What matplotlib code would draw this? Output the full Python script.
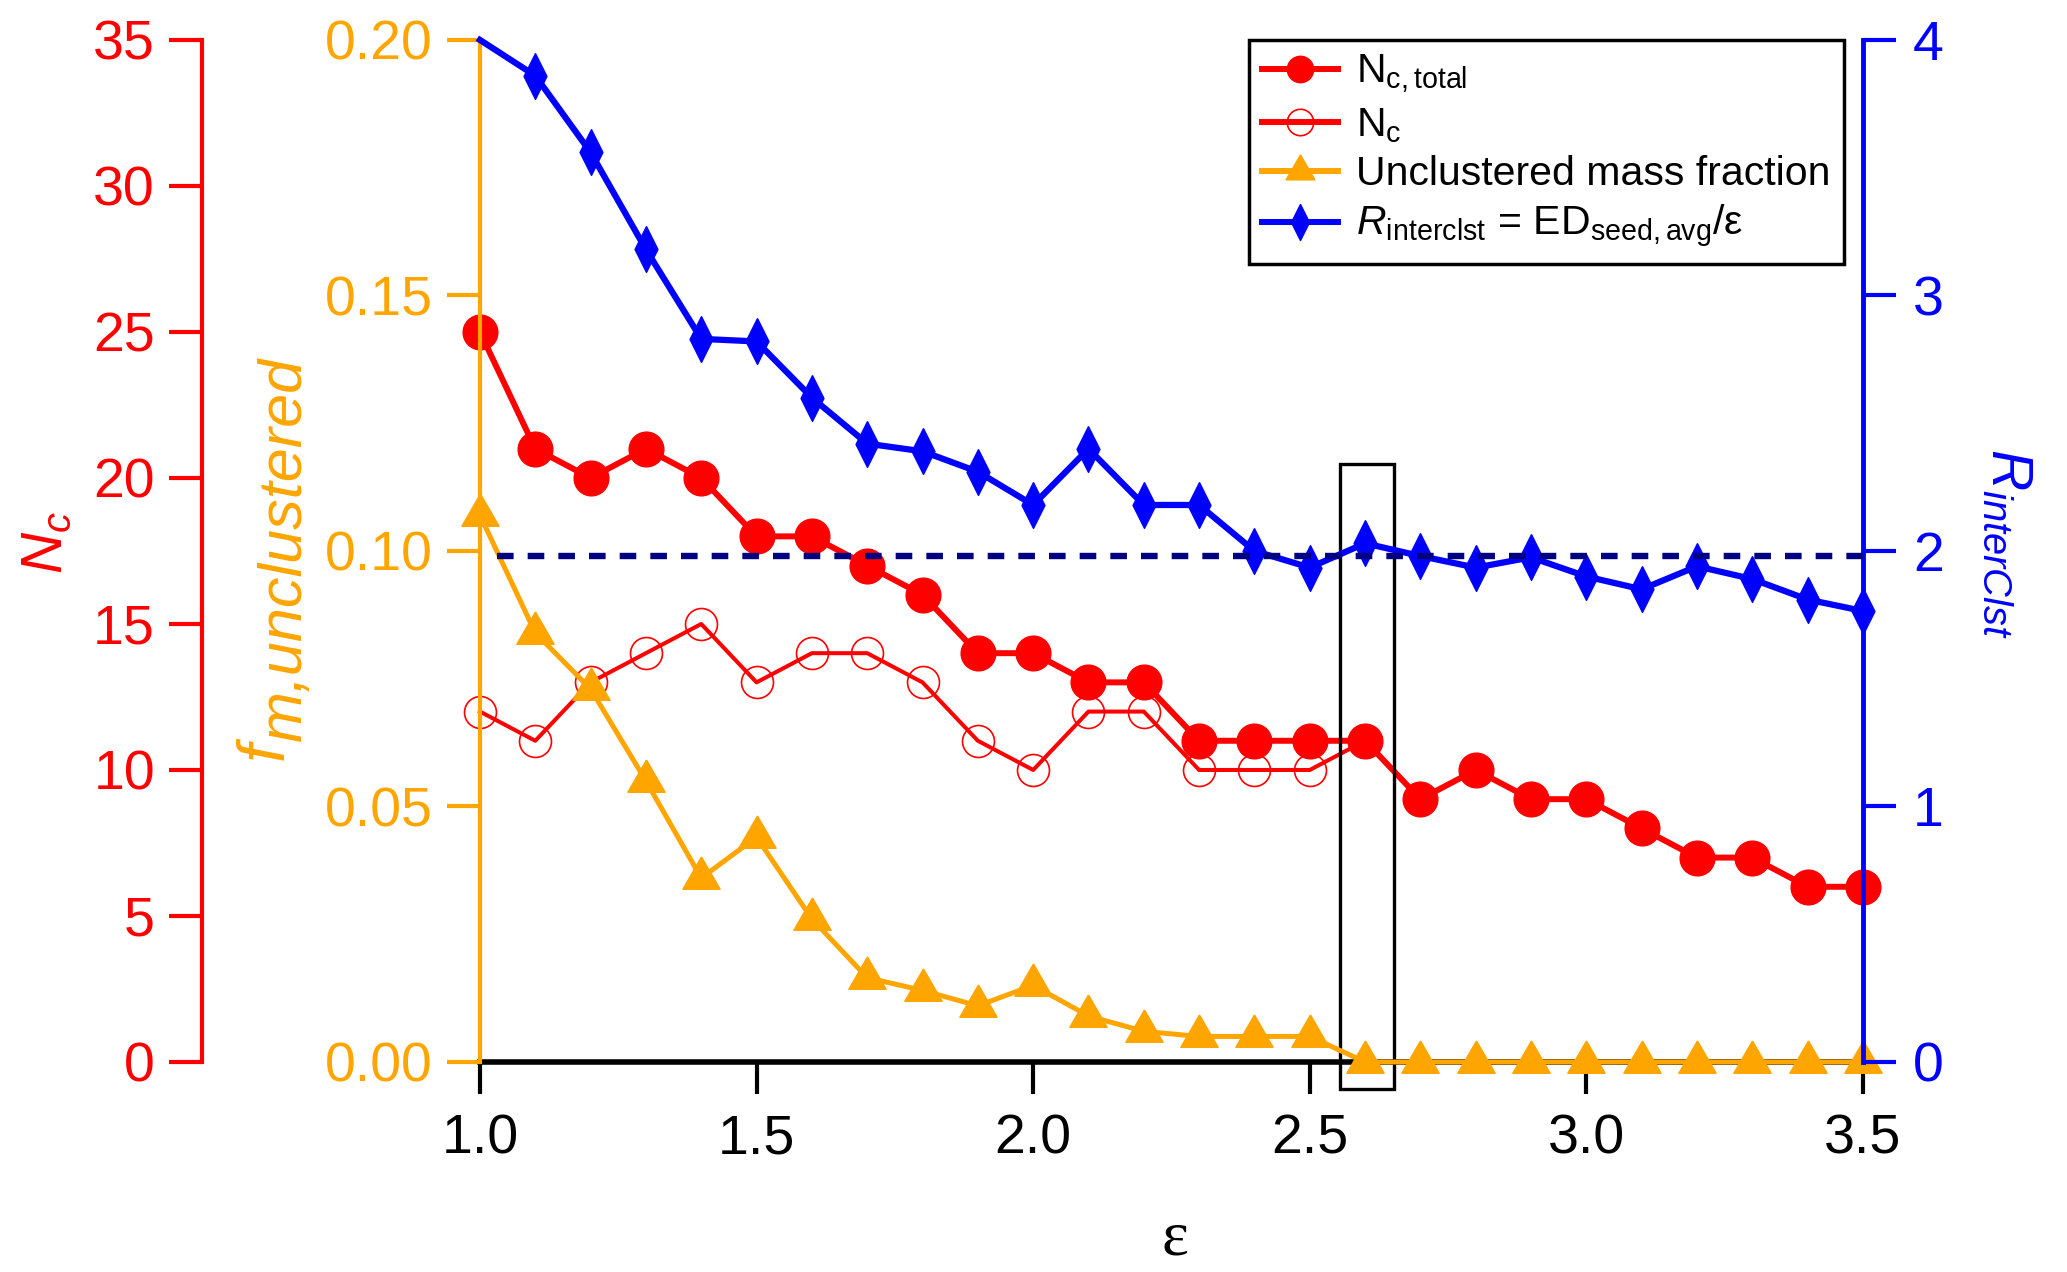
import matplotlib
matplotlib.use("Agg")
import matplotlib.pyplot as plt
from matplotlib.patches import Rectangle
from matplotlib.lines import Line2D
from matplotlib.ticker import FormatStrFormatter

plt.rcParams['font.family'] = ['Liberation Sans', 'DejaVu Sans']
plt.rcParams['mathtext.fontset'] = 'custom'
plt.rcParams['mathtext.rm'] = 'Liberation Sans'
plt.rcParams['mathtext.it'] = 'Liberation Sans:italic'

eps = [1.0, 1.1, 1.2, 1.3, 1.4, 1.5, 1.6, 1.7, 1.8, 1.9, 2.0, 2.1, 2.2,
       2.3, 2.4, 2.5, 2.6, 2.7, 2.8, 2.9, 3.0, 3.1, 3.2, 3.3, 3.4, 3.5]
nc_total = [25, 21, 20, 21, 20, 18, 18, 17, 16, 14, 14, 13, 13,
            11, 11, 11, 11, 9, 10, 9, 9, 8, 7, 7, 6, 6]
nc = [12, 11, 13, 14, 15, 13, 14, 14, 13, 11, 10, 12, 12,
      10, 10, 10, 11, 9, 10, 9, 9, 8, 7, 7, 6, 6]
f_unclustered = [0.107, 0.084, 0.073, 0.055, 0.036, 0.044, 0.028, 0.0165, 0.014,
                 0.011, 0.015, 0.009, 0.006, 0.005, 0.005, 0.005,
                 0, 0, 0, 0, 0, 0, 0, 0, 0, 0]
r_interclst = [4.0, 3.86, 3.56, 3.18, 2.83, 2.82, 2.60, 2.42, 2.39, 2.31, 2.18,
               2.40, 2.18, 2.18, 2.00, 1.935, 2.03, 1.98, 1.935, 1.975, 1.90,
               1.85, 1.94, 1.89, 1.81, 1.765]
r_ref = 1.98

RED = '#ff0000'
ORANGE = '#ffa500'
BLUE = '#0000ff'
NAVY = '#000080'

# igor-like markers: equilateral triangle centred on its centroid, slim diamond
TRI = [(0, 0.577), (-0.5, -0.289), (0.5, -0.289), (0, 0.577)]
DIAM = [(0, 1), (0.5, 0), (0, -1), (-0.5, 0), (0, 1)]

fig = plt.figure(figsize=(20.67, 12.72), dpi=100)
ax = fig.add_axes([0.2322, 0.1651, 0.6691, 0.8035])
axf = ax.twinx()
axr = ax.twinx()

# Nc axis (red, offset left)
ax.plot(eps, nc, color=RED, lw=2.9, marker='o', ms=23, mfc='none', mec=RED,
        mew=1.2, clip_on=False, zorder=3)
ax.plot(eps, nc_total, color=RED, lw=4.3, marker='o', ms=25, clip_on=False, zorder=4)
ax.set_xlim(1.0, 3.5)
ax.set_ylim(0, 35)
ax.set_yticks([0, 5, 10, 15, 20, 25, 30, 35])
ax.set_xticks([1.0, 1.5, 2.0, 2.5, 3.0, 3.5])
ax.spines['left'].set_position(('outward', 200))
ax.spines['left'].set_color(RED)
ax.spines['left'].set_linewidth(3)
ax.spines['top'].set_visible(False)
ax.spines['right'].set_visible(False)
ax.spines['bottom'].set_linewidth(4)
ax.tick_params(axis='y', colors=RED, labelsize=40, length=24, width=3, pad=10)
ax.tick_params(axis='x', colors='black', labelsize=40, length=23, width=3, pad=14)
ax.set_ylabel('$N_c$', color=RED, fontsize=41)
ax.yaxis.set_label_coords(-0.2936, 0.508)
ax.set_xlabel('ε', fontsize=46, family=['Liberation Serif', 'DejaVu Serif'],
              va='baseline')
ax.xaxis.set_label_coords(0.5025, -0.188)

ax.add_patch(Rectangle((2.555, -0.92), 0.097, 21.4, fill=False, ec='black',
                       lw=2.4, clip_on=False, zorder=6))

# unclustered mass fraction (orange, inner left)
axf.plot(eps, f_unclustered, color=ORANGE, lw=3.6, marker=TRI, ms=31,
         clip_on=False, zorder=5)
axf.set_ylim(0, 0.20)
axf.set_yticks([0.00, 0.05, 0.10, 0.15, 0.20])
axf.yaxis.set_major_formatter(FormatStrFormatter('%.2f'))
axf.yaxis.tick_left()
for s in ['top', 'right', 'bottom']:
    axf.spines[s].set_visible(False)
axf.spines['left'].set_color(ORANGE)
axf.spines['left'].set_linewidth(3)
axf.tick_params(axis='y', colors=ORANGE, labelsize=40, length=24, width=3, pad=10)

# f_m,unclustered label: big f with a nearly full-size lowered subscript
fig.text(283 / 2067, 1 - 760 / 1272, 'f', color=ORANGE, fontsize=48,
         style='italic', rotation=90, rotation_mode='anchor',
         ha='left', va='baseline')
fig.text(301 / 2067, 1 - 741 / 1272, 'm,unclustered', color=ORANGE, fontsize=44,
         style='italic', rotation=90, rotation_mode='anchor',
         ha='left', va='baseline')

# R_interclst (blue, right)
axr.plot(eps, r_interclst, color=BLUE, lw=4.5, marker=DIAM, ms=33,
         markevery=slice(1, None), clip_on=False, zorder=4)
axr.axhline(r_ref, xmin=0.012, xmax=1.0, color=NAVY, lw=4.6, ls=(0, (2.6, 2.2)),
            zorder=5)
axr.set_ylim(0, 4)
axr.set_yticks([0, 1, 2, 3, 4])
for s in ['top', 'left', 'bottom']:
    axr.spines[s].set_visible(False)
axr.spines['right'].set_color(BLUE)
axr.spines['right'].set_linewidth(3.5)
axr.tick_params(axis='y', colors=BLUE, labelsize=40, length=24, width=3, pad=12)
axr.set_ylabel('$R_{interClst}$', color=BLUE, fontsize=41, rotation=270)
axr.yaxis.set_label_coords(1.124, 0.507)

handles = [
    Line2D([], [], color=RED, lw=4.3, marker='o', ms=19),
    Line2D([], [], color=RED, lw=4.3, marker='o', ms=19, mfc='none', mew=1.2),
    Line2D([], [], color=ORANGE, lw=4.3, marker=TRI, ms=24),
    Line2D([], [], color=BLUE, lw=4.3, marker=DIAM, ms=26),
]
labels = [
    r'N$_\mathrm{c,total}$',
    r'N$_\mathrm{c}$',
    'Unclustered mass fraction',
    r'$R$$_\mathrm{interclst}$ = ED$_\mathrm{seed,avg}$/ε',
]
leg = axr.legend(handles, labels, loc='upper right', bbox_to_anchor=(0.986, 1.0),
                 borderaxespad=0, fontsize=29.5, frameon=True, fancybox=False,
                 edgecolor='black', framealpha=1, handlelength=1.85,
                 labelspacing=0.25, handletextpad=0.45, borderpad=0.32)
leg.get_frame().set_linewidth(2.5)
leg.set_zorder(10)

fig.savefig('out.png', dpi=100)
